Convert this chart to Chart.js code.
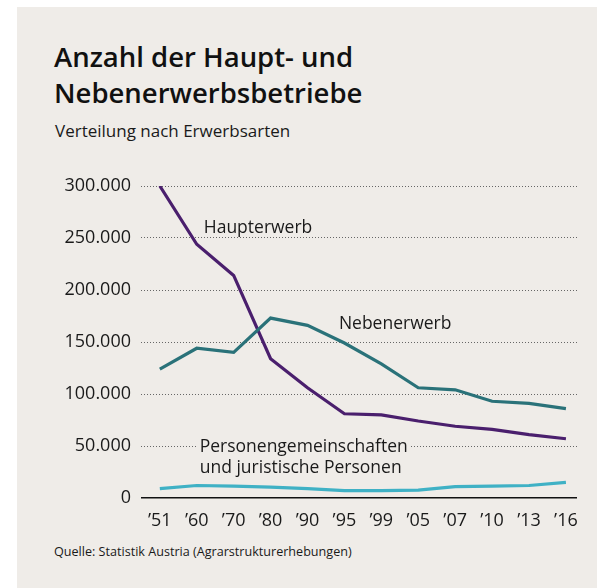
<!DOCTYPE html>
<html>
<head>
<meta charset="utf-8">
<script src="https://cdn.jsdelivr.net/npm/chart.js@4/dist/chart.umd.min.js"></script>
<style>
  html, body { margin: 0; padding: 0; background: #fff; }
  body { width: 598px; height: 588px; position: relative; overflow: hidden; font-family: "Open Sans", sans-serif; color: #111; }
  #panel { position: absolute; left: 17px; top: 7px; right: 1px; bottom: 0; background: #efece8; }
  #title { position: absolute; left: 54px; top: 39px; font-size: 27.5px; font-weight: 600; line-height: 36px; margin: 0; white-space: nowrap; }
  #sub { position: absolute; left: 55px; top: 121px; font-size: 17px; line-height: 20px; color: #1a1a1a; white-space: nowrap; }
  #source { position: absolute; left: 54px; top: 544px; font-size: 12.6px; line-height: 16px; color: #1a1a1a; white-space: nowrap; }
  #wrap { position: absolute; left: 0; top: 160px; width: 598px; height: 380px; }
</style>
</head>
<body>
<div id="panel"></div>
<h1 id="title">Anzahl der Haupt- und<br>Nebenerwerbsbetriebe</h1>
<div id="sub">Verteilung nach Erwerbsarten</div>
<div id="wrap"><canvas id="myChart" width="598" height="380"></canvas></div>
<div id="source">Quelle: Statistik Austria (Agrarstrukturerhebungen)</div>
<script>
const years = ["’51", "’60", "’70", "’80", "’90", "’95", "’99", "’05", "’07", "’10", "’13", "’16"];
const haupterwerb = [300000, 244000, 214000, 134000, 106000, 81000, 80000, 74000, 69000, 66000, 61000, 57000];
const nebenerwerb = [124000, 144000, 140000, 173000, 166000, 149000, 129000, 106000, 104000, 93000, 91000, 86000];
const personen = [9000, 12000, 11500, 10500, 9000, 7000, 7000, 7500, 11000, 11500, 12000, 15000];
const yTicks = [0, 50000, 100000, 150000, 200000, 250000, 300000];

const seriesLabels = [
  { lines: ["Haupterwerb"], x: 1.19, y: 260000, bg: false },
  { lines: ["Nebenerwerb"], x: 4.85, y: 167000, bg: false },
  { lines: ["Personengemeinschaften", "und juristische Personen"], x: 1.08, y: 49500, bg: true }
];

const fmt = v => v === 0 ? "0" : v.toLocaleString("de-DE");

const labelPlugin = {
  id: "seriesLabels",
  afterDatasetsDraw(chart) {
    const { ctx, scales } = chart;
    ctx.save();
    ctx.font = "17.5px 'Open Sans', sans-serif";
    ctx.textBaseline = "middle";
    ctx.textAlign = "left";
    seriesLabels.forEach(l => {
      const px = scales.x.getPixelForValue(l.x);
      const py = scales.y.getPixelForValue(l.y);
      if (l.bg) {
        const w = Math.max(...l.lines.map(t => ctx.measureText(t).width));
        ctx.fillStyle = "#efece8";
        ctx.fillRect(px - 2, py - 11, w + 4, l.lines.length * 21);
      }
      ctx.fillStyle = "#1a1a1a";
      l.lines.forEach((t, i) => ctx.fillText(t, px, py + i * 21));
    });
    ctx.restore();
  }
};

const points = arr => arr.map((v, i) => ({ x: i, y: v }));

new Chart(document.getElementById("myChart").getContext("2d"), {
  type: "line",
  data: {
    datasets: [
      { data: points(personen), borderColor: "#3fb1c5" },
      { data: points(nebenerwerb), borderColor: "#2a7279" },
      { data: points(haupterwerb), borderColor: "#4a1f6d" }
    ].map(ds => ({ ...ds, borderWidth: 3.2, pointRadius: 0, tension: 0, fill: false }))
  },
  options: {
    responsive: false,
    animation: false,
    layout: { padding: { top: 26, right: 21, left: 0, bottom: 0 } },
    plugins: { legend: { display: false }, tooltip: { enabled: false } },
    scales: {
      x: {
        type: "linear",
        min: -0.51,
        max: 11.3,
        afterBuildTicks: s => { s.ticks = years.map((_, i) => ({ value: i })); },
        afterFit: s => { s.height = 42; },
        grid: { display: false },
        border: { display: false },
        ticks: {
          autoSkip: false,
          maxRotation: 0,
          padding: 4,
          color: "#1a1a1a",
          font: { family: "'Open Sans'", size: 18 },
          callback: v => years[v]
        }
      },
      y: {
        min: 0,
        max: 300000,
        afterBuildTicks: s => { s.ticks = yTicks.map(v => ({ value: v })); },
        afterFit: s => { s.width = 141; },
        border: { display: false, dash: c => (c.tick && c.tick.value === 0) ? [] : [1, 2] },
        grid: {
          drawTicks: false,
          color: c => (c.tick && c.tick.value === 0) ? "#111" : "#666",
          lineWidth: c => (c.tick && c.tick.value === 0) ? 1.6 : 1
        },
        ticks: {
          padding: 10,
          color: "#1a1a1a",
          font: { family: "'Open Sans'", size: 18 },
          callback: v => fmt(v)
        }
      }
    }
  },
  plugins: [labelPlugin]
});
</script>
</body>
</html>
